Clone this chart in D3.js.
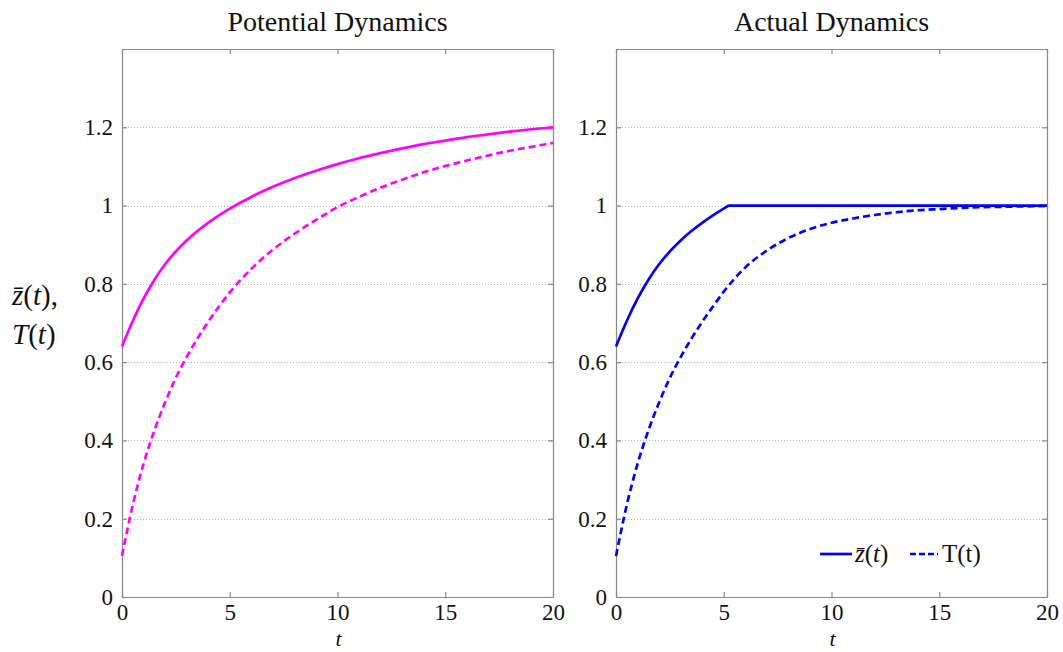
<!DOCTYPE html>
<html><head><meta charset="utf-8">
<script src="https://cdn.jsdelivr.net/npm/d3@7"></script>
<style>
body{margin:0;background:#fff}svg{display:block}
svg text{font-family:"Liberation Serif","Times New Roman",serif !important;}
</style>
</head><body>
<svg id="c" width="1063" height="652"></svg>
<script>
// ---- data ----
const panelTitles = ["Potential Dynamics", "Actual Dynamics"];
const xTicks = [0, 5, 10, 15, 20];
const yTicks = [0, 0.2, 0.4, 0.6, 0.8, 1, 1.2];
const yTickLabels = ["0", "0.2", "0.4", "0.6", "0.8", "1", "1.2"];

const tCommon = [0,0.5,1,1.5,2,2.5,3,3.5,4,4.5,5,6,7,8,9,10,11,12,13,14,15,16,17,18,19,20];
const potentialZ = [0.64,0.705,0.762,0.81,0.85,0.883,0.911,0.935,0.956,0.975,0.992,1.022,1.048,1.07,1.089,1.106,1.121,1.134,1.146,1.157,1.166,1.175,1.182,1.189,1.195,1.2];
const potentialT = [0.105,0.235,0.34,0.425,0.497,0.56,0.613,0.66,0.703,0.742,0.778,0.838,0.887,0.928,0.963,0.996,1.022,1.046,1.066,1.085,1.101,1.115,1.128,1.14,1.15,1.16];

const tActualZ = [0,0.5,1,1.5,2,2.5,3,3.5,4,4.5,5,5.25,20];
const actualZ = [0.64,0.705,0.762,0.81,0.85,0.883,0.911,0.935,0.956,0.975,0.992,1.0,1.0];
const actualT = [0.105,0.235,0.34,0.425,0.497,0.56,0.613,0.66,0.703,0.742,0.78,0.842,0.885,0.917,0.94,0.956,0.967,0.976,0.983,0.988,0.991,0.994,0.996,0.997,0.998,0.999];

const legendLabels = ["z\u0304(t)", "T(t)"];
// ---- drawing ----
const svg = d3.select("#c");
const FONT = "Liberation Serif";
const plotTop = 49, plotBottom = 597;
const panels = [
  {x0:122, x1:553, color:"#ff00ff", z:{t:tCommon, v:potentialZ}, T:{t:tCommon, v:potentialT}},
  {x0:616, x1:1047, color:"#0000ff", z:{t:tActualZ, v:actualZ}, T:{t:tCommon, v:actualT}}
];
const y = d3.scaleLinear().domain([0,1.4]).range([plotBottom, plotTop]);

panels.forEach((p,i)=>{
  const x = d3.scaleLinear().domain([0,20]).range([p.x0, p.x1]);
  const g = svg.append("g");
  // grid
  g.selectAll(".grid").data(yTicks.filter(d=>d>0)).join("line")
    .attr("x1", p.x0).attr("x2", p.x1)
    .attr("y1", d=>Math.round(y(d))+0.5).attr("y2", d=>Math.round(y(d))+0.5)
    .attr("stroke", "#b0b0b0").attr("stroke-width", 1).attr("stroke-dasharray", "1,2");
  // frame axes with inward ticks
  const axB = d3.axisBottom(x).tickValues(xTicks).tickSizeInner(-5).tickSizeOuter(0).tickPadding(7);
  const axT = d3.axisTop(x).tickValues(xTicks).tickSizeInner(-5).tickSizeOuter(0).tickFormat("");
  const axL = d3.axisLeft(y).tickValues(yTicks).tickSizeInner(-5).tickSizeOuter(0).tickPadding(9)
    .tickFormat((d,k)=>yTickLabels[k]);
  const axR = d3.axisRight(y).tickValues(yTicks).tickSizeInner(-5).tickSizeOuter(0).tickFormat("");
  const gb = g.append("g").attr("transform",`translate(0,${plotBottom})`).call(axB);
  const gt = g.append("g").attr("transform",`translate(0,${plotTop})`).call(axT);
  const gl = g.append("g").attr("transform",`translate(${p.x0},0)`).call(axL);
  const gr = g.append("g").attr("transform",`translate(${p.x1},0)`).call(axR);
  [gb,gt,gl,gr].forEach(a=>{
    a.attr("font-family",FONT).attr("font-size",23);
    a.selectAll("path,line").attr("stroke","#888").attr("stroke-width",1.2);
    a.selectAll("text").attr("font-size",23).attr("fill","#111");
  });
  // lines
  const line = d3.line().x(d=>x(d[0])).y(d=>y(d[1])).curve(d3.curveMonotoneX);
  g.append("path").datum(p.T.t.map((t,k)=>[t,p.T.v[k]]))
    .attr("d", line).attr("fill","none").attr("stroke",p.color).attr("stroke-width",2.7)
    .attr("stroke-dasharray","7,4");
  g.append("path").datum(p.z.t.map((t,k)=>[t,p.z.v[k]]))
    .attr("d", line).attr("fill","none").attr("stroke",p.color).attr("stroke-width",2.7);
  // title
  svg.append("text").attr("x",(p.x0+p.x1)/2).attr("y",31).attr("text-anchor","middle")
    .attr("font-size",28).attr("fill","#111").text(panelTitles[i]);
  // x label
  svg.append("text").attr("x",(p.x0+p.x1)/2+1).attr("y",646).attr("text-anchor","middle")
    .attr("font-size",22).attr("font-style","italic").attr("fill","#111").text("t");
});

// y label
const l1 = svg.append("text").attr("font-size",29).attr("fill","#111")
  .attr("x",12).attr("y",305);
l1.append("tspan").attr("font-style","italic").text("z\u0304");
l1.append("tspan").text("(");
l1.append("tspan").attr("font-style","italic").text("t");
l1.append("tspan").text("),");
const l2 = svg.append("text").attr("font-size",29).attr("fill","#111")
  .attr("x",12).attr("y",344);
l2.append("tspan").attr("font-style","italic").text("T");
l2.append("tspan").text("(");
l2.append("tspan").attr("font-style","italic").text("t");
l2.append("tspan").text(")");

// legend
const lg = svg.append("g");
lg.append("line").attr("x1",820).attr("x2",852).attr("y1",554).attr("y2",554)
  .attr("stroke","#0000ff").attr("stroke-width",2.7);
const lt1 = lg.append("text").attr("x",855).attr("y",562).attr("font-size",25).attr("fill","#111");
lt1.append("tspan").attr("font-style","italic").text("z\u0304");
lt1.append("tspan").text("(");
lt1.append("tspan").attr("font-style","italic").text("t");
lt1.append("tspan").text(")");
lg.append("line").attr("x1",910).attr("x2",938).attr("y1",554).attr("y2",554)
  .attr("stroke","#0000ff").attr("stroke-width",2.7).attr("stroke-dasharray","6,3");
lg.append("text").attr("x",942).attr("y",562).attr("font-size",25).attr("fill","#111")
  .text(legendLabels[1]);
</script>
</body></html>
